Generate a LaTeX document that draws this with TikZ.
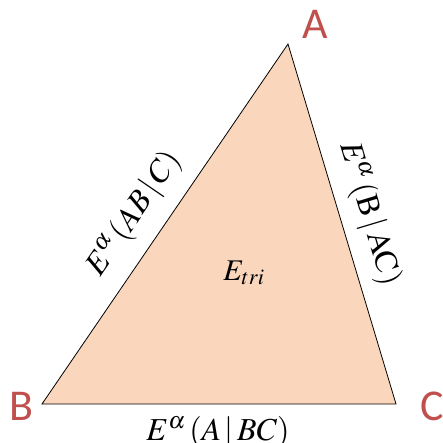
\documentclass[tikz,border=0pt]{standalone}
\usepackage{mathptmx}
\usepackage{fontspec}
\newfontfamily\labfont{Carlito}
\definecolor{peach}{HTML}{FAD7BC}
\definecolor{vred}{HTML}{C0504D}
\begin{document}
\begin{tikzpicture}[x=1pt,y=-1pt,
  vlab/.style={font=\labfont\fontsize{44}{48}\selectfont, text=vred, inner sep=0pt},
  elab/.style={font=\fontsize{32}{36}\selectfont, inner sep=0pt}]
\useasboundingbox (0,0) rectangle (443,442);
\coordinate (A) at (288,44);
\coordinate (B) at (42,404);
\coordinate (C) at (396,404);
\filldraw[fill=peach, draw=black, line width=0.8pt] (A) -- (B) -- (C) -- cycle;
\node[vlab] (lA) at (315,24) {A};
\node[vlab] (lB) at (21,406) {B};
\node[vlab] (lC) at (432,406) {C};
\node[elab] (eBC) at (218,432) {$E^{\alpha}\,(A\,|\,BC)$};
\node[elab, rotate=55.6] (eAB) at (134,214) {$E^{\alpha}\,(AB\,|\,C)$};
\node[elab, rotate=-73.3] (eAC) at (369,214) {$E^{\alpha}\,(\mathrm{B}\,|\,\mathrm{AC})$};
\node[elab, font=\fontsize{30}{34}\selectfont] (etri) at (244,273) {$E_{tri}$};
\end{tikzpicture}
\end{document}
